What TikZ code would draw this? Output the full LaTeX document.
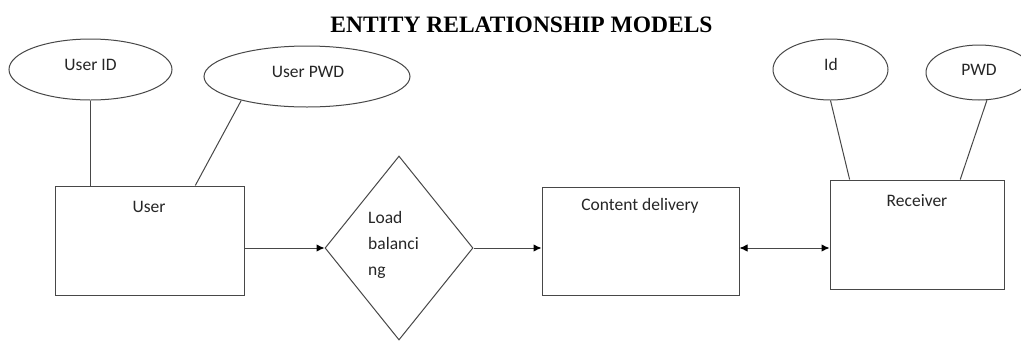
\documentclass[tikz,border=0pt]{standalone}
\usepackage{fontspec}
\setmainfont{Carlito}
\newfontfamily\titlefont{Liberation Serif}
\usetikzlibrary{shapes.geometric,arrows.meta,calc}
\begin{document}
\begin{tikzpicture}[x=1pt,y=-1pt,
  ln/.style={draw=black!72,line width=1pt},
  tip/.tip={Latex[length=8pt,width=7.5pt,black]},
  arr/.style={ln,-tip},
  darr/.style={ln,tip-tip},
  attr/.style={ellipse,ln,inner sep=0pt},
  entity/.style={rectangle,ln,inner sep=0pt},
  rel/.style={diamond,ln,inner sep=0pt},
  txt/.style={anchor=base,inner sep=0pt,font=\fontsize{17.5}{20}\selectfont,text=black!85}
]
\useasboundingbox (0,0) rectangle (1021,341);
\clip (0,0) rectangle (1021,341);
\fill[white] (0,0) rectangle (1021,341);

% title
\node[anchor=base,inner sep=0pt,font=\titlefont\bfseries\fontsize{23.5}{26}\selectfont] (title) at (521.5,32.5) {ENTITY RELATIONSHIP MODELS};

% attributes
\node[attr,minimum width=163pt,minimum height=61pt] (uid) at (90.5,69.5) {};
\node[txt] (uidt) at (90.5,70.7) {User ID};
\node[attr,minimum width=206pt,minimum height=61pt] (upwd) at (307,76.5) {};
\node[txt] (upwdt) at (308,77) {User PWD};
\node[attr,minimum width=115pt,minimum height=61pt] (rid) at (830.5,69.5) {};
\node[txt] (ridt) at (831,70.7) {Id};
\node[attr,minimum width=106pt,minimum height=55pt] (rpwd) at (979,72.5) {};
\node[txt] (rpwdt) at (979,75) {PWD};

% entities
\node[entity,minimum width=189pt,minimum height=109pt] (user) at (149.5,240.5) {};
\node[txt] (usert) at (149,212) {User};
\node[entity,minimum width=197pt,minimum height=108pt] (cd) at (640.5,241) {};
\node[txt] (cdt) at (640,210.7) {Content delivery};
\node[entity,minimum width=174pt,minimum height=109pt] (rec) at (917,234.5) {};
\node[txt] (rect) at (917,206) {Receiver};

% relationship
\node[rel,minimum width=148pt,minimum height=184pt] (lb) at (399,248) {};
\node[txt,anchor=base west] (lb1) at (368,223) {Load};
\node[txt,anchor=base west] (lb2) at (368,249) {balanci};
\node[txt,anchor=base west] (lb3) at (368,275) {ng};

% attribute links
\draw[ln] (uid.south) -- (uid.south |- user.north);
\draw[ln] (upwd.200.5) -- ($(user.north west)!0.741!(user.north east)$);
\draw[ln] (rid.south) -- ($(rec.north west)!0.115!(rec.north east)$);
\draw[ln] (rpwd.286.2) -- ($(rec.north west)!0.747!(rec.north east)$);

% flow
\draw[arr] (user.east |- lb.west) -- (lb.west);
\draw[arr] (lb.east) -- (cd.west |- lb.east);
\draw[darr] (cd.east |- lb.east) -- (rec.west |- lb.east);
\end{tikzpicture}
\end{document}
